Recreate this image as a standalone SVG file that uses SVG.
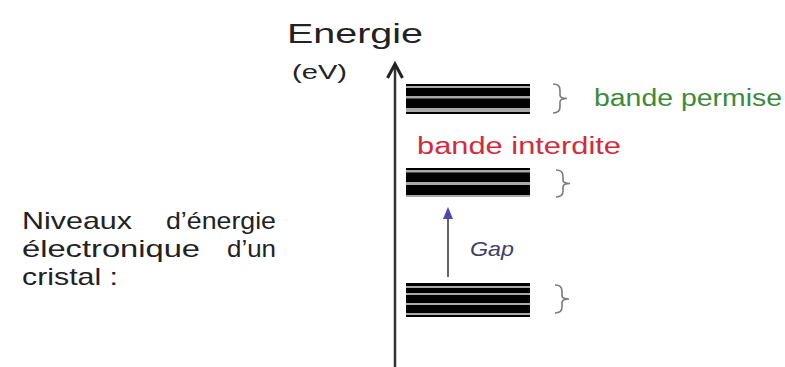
<svg xmlns="http://www.w3.org/2000/svg" width="785" height="367" viewBox="0 0 785 367">
<style>
.t{font-family:"Liberation Sans","DejaVu Sans",sans-serif;fill:#222}
.bg{fill:#a8a8a8}
.bk{fill:#000}
.br{fill:none;stroke:#7a7a7a;stroke-width:1.6}
</style>
<rect width="785" height="367" fill="#fff"/>
<g id="axis">
<line x1="395" y1="367" x2="395" y2="65" stroke="#333" stroke-width="2.5"/>
<polyline points="387.5,78 395,64 402.5,78" fill="none" stroke="#222" stroke-width="3"/>
</g>
<g id="title">
<text class="t" x="287" y="43" font-size="28" textLength="136" lengthAdjust="spacingAndGlyphs">Energie</text>
<text class="t" x="292" y="79" font-size="20" textLength="55" lengthAdjust="spacingAndGlyphs">(eV)</text>
</g>
<g id="band-top">
<rect class="bg" x="406" y="84" width="124" height="30"/>
<rect class="bk" x="406" y="84" width="124" height="2"/>
<rect class="bk" x="406" y="88" width="124" height="8"/>
<rect class="bk" x="406" y="98.5" width="124" height="9.5"/>
<rect class="bk" x="406" y="112" width="124" height="2"/>
<path class="br" d="M553,84 Q560,84 560,90 L560,95 Q560,98.5 567,98.5 Q560,98.5 560,102 L560,107 Q560,113 553,113"/>
</g>
<g id="band-middle">
<rect class="bg" x="406" y="168" width="124" height="29"/>
<rect class="bk" x="406" y="168" width="124" height="2"/>
<rect class="bk" x="406" y="172.5" width="124" height="9.5"/>
<rect class="bk" x="406" y="185" width="124" height="10"/>
<path class="br" d="M556,170 Q563,170 563,176 L563,180 Q563,183.5 570,183.5 Q563,183.5 563,187 L563,191 Q563,197 556,197"/>
</g>
<g id="band-bottom">
<rect class="bg" x="406" y="283" width="124" height="34"/>
<rect class="bk" x="406" y="283" width="124" height="3"/>
<rect class="bk" x="406" y="288" width="124" height="5"/>
<rect class="bk" x="406" y="295" width="124" height="8"/>
<rect class="bk" x="406" y="305" width="124" height="8"/>
<rect class="bk" x="406" y="315" width="124" height="2"/>
<path class="br" d="M555,285 Q562,285 562,291 L562,295.5 Q562,299 569,299 Q562,299 562,302.5 L562,307 Q562,313 555,313"/>
</g>
<g id="labels">
<text x="594" y="106" font-family="Liberation Sans, DejaVu Sans, sans-serif" font-size="23" fill="#3c8a3c" textLength="188" lengthAdjust="spacingAndGlyphs">bande permise</text>
<text x="417" y="154" font-family="Liberation Sans, DejaVu Sans, sans-serif" font-size="23" fill="#d42a3c" textLength="204" lengthAdjust="spacingAndGlyphs">bande interdite</text>
</g>
<g id="gap">
<line x1="448" y1="277" x2="448" y2="216" stroke="#666" stroke-width="2"/>
<polygon points="448,207 443,219 453,219" fill="#4a4aa8"/>
<text x="470" y="256" font-family="Liberation Sans, DejaVu Sans, sans-serif" font-style="italic" font-size="21" fill="#40406a" textLength="44" lengthAdjust="spacingAndGlyphs">Gap</text>
</g>
<g id="description">
<text class="t" x="22" y="229" font-size="24" textLength="110" lengthAdjust="spacingAndGlyphs">Niveaux</text>
<text class="t" x="166" y="229" font-size="24" textLength="110" lengthAdjust="spacingAndGlyphs">d’énergie</text>
<text class="t" x="22" y="257" font-size="24" textLength="178" lengthAdjust="spacingAndGlyphs">électronique</text>
<text class="t" x="227" y="257" font-size="24" textLength="49" lengthAdjust="spacingAndGlyphs">d’un</text>
<text class="t" x="22" y="285" font-size="24" textLength="96" lengthAdjust="spacingAndGlyphs">cristal :</text>
</g>
</svg>
